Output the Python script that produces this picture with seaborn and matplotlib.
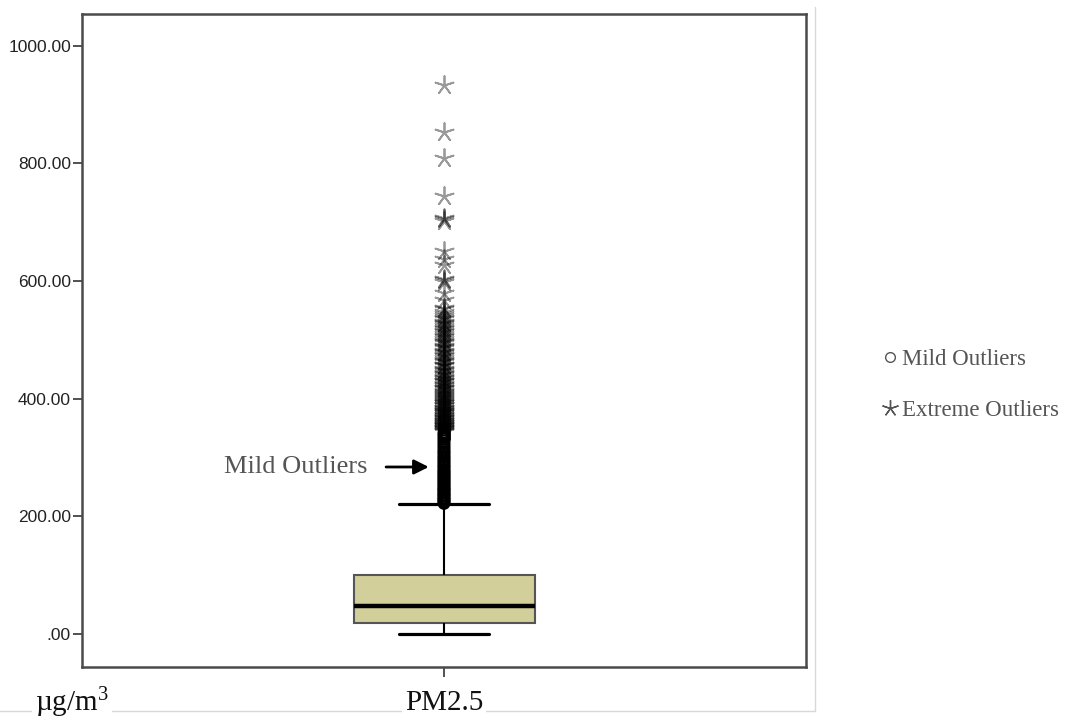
import matplotlib
matplotlib.use("Agg")
import matplotlib.pyplot as plt
from matplotlib.lines import Line2D
import seaborn as sns
import pandas as pd

# ---- data ----
category = "PM2.5"
box_summary = [0, 19, 48, 100, 221]          # min, Q1, median, Q3, upper whisker
mild_outliers = [222, 224, 225, 227, 229, 230, 232, 234, 236, 237, 239, 241, 243,
                 245, 246, 248, 250, 252, 254, 256, 258, 260, 262, 264, 266, 268,
                 270, 272, 274, 276, 278, 280, 283, 285, 287, 290, 292, 295, 297,
                 300, 302, 305, 308, 310, 313, 316, 319, 322, 325, 328, 331, 334,
                 337, 340, 342]
extreme_outliers = [344, 345, 346, 347, 348, 349, 350, 351, 352, 353, 354, 355, 356,
                    357, 358, 359, 360, 362, 363, 364, 365, 367, 368, 369, 371, 372,
                    373, 375, 376, 377, 379, 380, 381, 383, 384, 385, 388, 389, 390,
                    392, 393, 395, 397, 398, 400, 402, 403, 405, 407, 408, 410, 412,
                    413, 416, 418, 419, 422, 424, 425, 428, 430, 431, 434, 436, 437,
                    440, 442, 444, 447, 449, 451, 455, 457, 458, 462, 464, 466, 470,
                    472, 474, 478, 480, 482, 486, 488, 490, 494, 496, 498, 502, 505,
                    506, 510, 513, 515, 519, 521, 523, 527, 529, 531, 535, 538, 540,
                    544, 548, 552, 554, 568, 580, 598, 601, 603, 628, 637, 651, 702,
                    705, 707, 744, 809, 853, 934]
y_ticks = [0, 200, 400, 600, 800, 1000]
y_tick_labels = [".00", "200.00", "400.00", "600.00", "800.00", "1000.00"]

sns.set_style("white")
plt.rcParams["font.family"] = ["Liberation Sans", "DejaVu Sans"]
plt.rcParams["mathtext.fontset"] = "custom"
plt.rcParams["mathtext.rm"] = "Liberation Serif"
plt.rcParams["mathtext.it"] = "Liberation Serif:italic"

serif = ["Liberation Serif", "DejaVu Serif"]

fig = plt.figure(figsize=(10.65, 7.22), dpi=100)
ax = fig.add_axes([82 / 1065, 1 - 667 / 722, (806 - 82) / 1065, (667 - 14) / 722])

box_df = pd.DataFrame({"var": [category] * len(box_summary), "val": box_summary})
sns.boxplot(data=box_df, x="var", y="val", ax=ax, whis=(0, 100), showfliers=False,
            width=0.25, color="#d3cf9b", linecolor="black", linewidth=1.5,
            boxprops=dict(edgecolor="#555555", facecolor="#d3cf9b", linewidth=1.5),
            medianprops=dict(color="black", linewidth=3.2),
            whiskerprops=dict(color="black", linewidth=1.5),
            capprops=dict(color="black", linewidth=2.3))

mild_df = pd.DataFrame({"var": [category] * len(mild_outliers), "val": mild_outliers})
sns.stripplot(data=mild_df, x="var", y="val", ax=ax, jitter=False, marker="o",
              size=8, color="black", edgecolor="black", linewidth=1.2, zorder=4)
ax.collections[-1].set_facecolor("none")

ext_df = pd.DataFrame({"var": [category] * len(extreme_outliers), "val": extreme_outliers})
sns.stripplot(data=ext_df, x="var", y="val", ax=ax, jitter=False, marker=(5, 2, 0),
              size=13.5, color="black", edgecolor="black", linewidth=1.3, alpha=0.4,
              zorder=4)

ax.set_xlim(-0.5, 0.5)
ax.set_ylim(-56, 1054)
ax.set_yticks(y_ticks)
ax.set_yticklabels(y_tick_labels)
ax.set_xlabel("")
ax.set_ylabel("")
ax.tick_params(axis="y", left=True, length=6.5, width=1.2, color="#333333", pad=1.5,
               labelsize=12.5, labelcolor="#222222")
ax.tick_params(axis="x", bottom=True, length=7.5, width=1.2, color="#333333", pad=9,
               labelsize=21, labelcolor="#111111")
for lab in ax.get_xticklabels():
    lab.set_fontfamily(serif)
    lab.set_bbox(dict(facecolor="white", edgecolor="none", pad=2))
for sp in ax.spines.values():
    sp.set_color("#4a4a4a")
    sp.set_linewidth(1.8)

# annotation arrow
ax.annotate("", xy=(-0.021, 284), xytext=(-0.080, 284),
            arrowprops=dict(arrowstyle="-|>", color="black", lw=2.0, mutation_scale=22,
                            shrinkA=0, shrinkB=0))
ax.text(-0.105, 284, "Mild Outliers", ha="right", va="center", fontsize=19,
        family=serif, color="#555555")

# outer faint frame
fig.add_artist(Line2D([0, 815 / 1065], [1 - 711 / 722] * 2, color="#d8d8d8", lw=1,
                      zorder=-1))
fig.add_artist(Line2D([815 / 1065] * 2, [1 - 7 / 722, 1 - 711 / 722], color="#d8d8d8",
                      lw=1, zorder=-1))

fig.text(35 / 1065, 1 - 703 / 722, "µg/m$^{3}$", ha="left", va="center", fontsize=21,
         family=serif, color="#111111",
         bbox=dict(facecolor="white", edgecolor="none", pad=2))

# legend
handles = [Line2D([], [], ls="none", marker="o", markersize=7, markerfacecolor="none",
                  markeredgecolor="#555555", markeredgewidth=1.0),
           Line2D([], [], ls="none", marker=(5, 2, 0), markersize=12,
                  markeredgecolor="#555555", markeredgewidth=1.0)]
fig.legend(handles, ["Mild Outliers", "Extreme Outliers"], loc="center left",
           bbox_to_anchor=(862 / 1065, 1 - 385 / 722), frameon=False,
           handlelength=0.6, handletextpad=0.25, labelspacing=1.3,
           prop=dict(family=serif, size=16.5),
           labelcolor="#555555")

fig.savefig("out.png", dpi=100)
